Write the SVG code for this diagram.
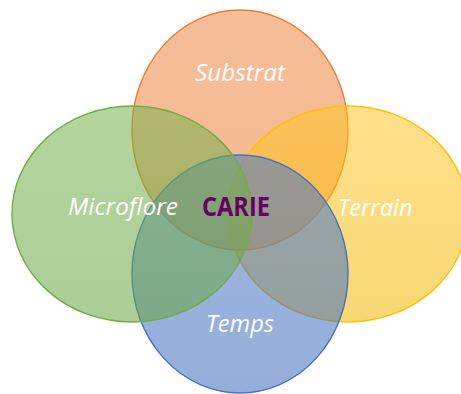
<svg xmlns="http://www.w3.org/2000/svg" width="461" height="394" viewBox="0 0 461 394">
  <defs>
    <linearGradient id="gOrange" x1="0" y1="0" x2="0" y2="1">
      <stop offset="0" stop-color="#EE8A45"/>
      <stop offset="1" stop-color="#ED7D31"/>
    </linearGradient>
    <linearGradient id="gYellow" x1="0" y1="0" x2="0" y2="1">
      <stop offset="0" stop-color="#FFC72A"/>
      <stop offset="1" stop-color="#F2B800"/>
    </linearGradient>
    <linearGradient id="gBlue" x1="0" y1="0" x2="0" y2="1">
      <stop offset="0" stop-color="#4A79CB"/>
      <stop offset="1" stop-color="#3F6BBB"/>
    </linearGradient>
    <linearGradient id="gGreen" x1="0" y1="0" x2="0" y2="1">
      <stop offset="0" stop-color="#78B350"/>
      <stop offset="1" stop-color="#68A43F"/>
    </linearGradient>
  </defs>
  <style>
    .shape { fill-opacity: 0.55; stroke-width: 1.4; }
    .lbl { font-family: "Open Sans", "Liberation Sans", sans-serif; font-style: italic; font-size: 24px; fill: #FFFFFF; text-anchor: middle; }
    .center { font-family: "Open Sans", "Liberation Sans", sans-serif; font-weight: bold; font-size: 26px; fill: #660066; text-anchor: middle; }
  </style>
  <g id="substrat">
    <ellipse class="shape" cx="240" cy="130" rx="108" ry="120" fill="url(#gOrange)" stroke="#ED7D31"/>
  </g>
  <g id="terrain">
    <ellipse class="shape" cx="348" cy="214" rx="120" ry="108" fill="url(#gYellow)" stroke="#FFC000"/>
  </g>
  <g id="temps">
    <ellipse class="shape" cx="240" cy="274" rx="108" ry="119" fill="url(#gBlue)" stroke="#4472C4"/>
  </g>
  <g id="microflore">
    <ellipse class="shape" cx="132" cy="214" rx="120" ry="108" fill="url(#gGreen)" stroke="#70AD47"/>
  </g>
  <g id="connectors"></g>
  <g id="labels">
    <text class="lbl" x="240" y="81" textLength="90" lengthAdjust="spacingAndGlyphs">Substrat</text>
    <text class="lbl" x="123" y="215" textLength="110" lengthAdjust="spacingAndGlyphs">Microflore</text>
    <text class="lbl" x="375" y="216" textLength="75" lengthAdjust="spacingAndGlyphs">Terrain</text>
    <text class="lbl" x="240" y="332" textLength="68" lengthAdjust="spacingAndGlyphs">Temps</text>
    <text class="center" x="236" y="216" textLength="68" lengthAdjust="spacingAndGlyphs">CARIE</text>
  </g>
</svg>
